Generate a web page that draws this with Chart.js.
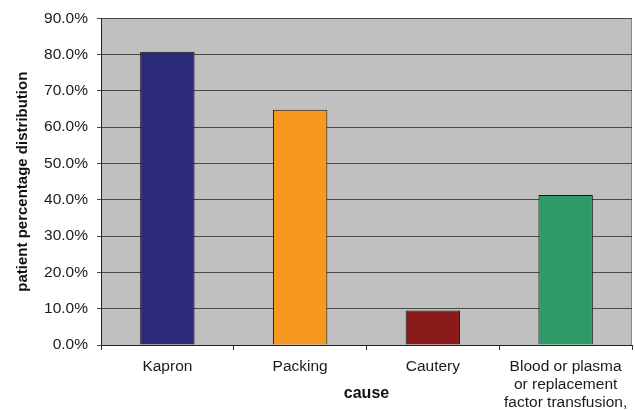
<!DOCTYPE html>
<html>
<head>
<meta charset="utf-8">
<script src="https://cdn.jsdelivr.net/npm/chart.js@4/dist/chart.umd.min.js"></script>
<style>
  html, body { margin: 0; padding: 0; background: #fff; }
  #wrap { width: 635px; height: 410px; }
</style>
</head>
<body>
<div id="wrap"><canvas id="causeChart" width="635" height="410"></canvas></div>
<script>
const causes = ["Kapron", "Packing", "Cautery", ["Blood or plasma", "or replacement", "factor transfusion,"]];
const percentages = [80.8, 64.8, 9.5, 41.3];
const barColors = ["#2a2a78", "#f7991f", "#8b1a1a", "#2e9a68"];
const yTicks = [0, 10, 20, 30, 40, 50, 60, 70, 80, 90];

// grey plot area plus the thin frame on the right
const plotBackground = {
  id: "plotBackground",
  beforeDraw(chart) {
    const { ctx, chartArea: a } = chart;
    ctx.save();
    ctx.fillStyle = "#c0c0c0";
    ctx.fillRect(a.left, a.top, a.right - a.left, a.bottom - a.top);
    ctx.strokeStyle = "#8a8a8a";
    ctx.lineWidth = 1;
    ctx.beginPath();
    ctx.moveTo(a.right - 0.5, a.top);
    ctx.lineTo(a.right - 0.5, a.bottom);
    ctx.stroke();
    ctx.restore();
  }
};

const family = "'Liberation Sans', Arial, sans-serif";

new Chart(document.getElementById("causeChart").getContext("2d"), {
  type: "bar",
  data: {
    labels: causes,
    datasets: [{
      data: percentages,
      backgroundColor: barColors,
      borderColor: "#111",
      borderWidth: 1,
      categoryPercentage: 1,
      barPercentage: 0.41
    }]
  },
  options: {
    responsive: false,
    animation: false,
    layout: { padding: { top: 6, right: 3, left: 0, bottom: 0 } },
    plugins: { legend: { display: false }, tooltip: { enabled: false } },
    scales: {
      x: {
        grid: { offset: true, drawOnChartArea: false, color: "#333", tickLength: 5 },
        border: { color: "#222", width: 1 },
        ticks: { color: "#1a1a1a", font: { family, size: 15.5, lineHeight: 1.19 }, padding: 7, maxRotation: 0 },
        title: { display: true, text: "cause", color: "#111",
                 font: { family, size: 16, weight: "bold" }, padding: { top: 0, bottom: 7 } },
        afterFit(scale) { scale.height = 65; }
      },
      y: {
        min: 0,
        max: 90,
        afterBuildTicks(scale) { scale.ticks = yTicks.map(v => ({ value: v })); },
        grid: { color: "#4a4a4a", tickLength: 4, lineWidth: 1 },
        border: { color: "#222", width: 1 },
        ticks: { color: "#1a1a1a", font: { family, size: 15.5 }, padding: 9, callback: v => v.toFixed(1) + "%" },
        title: { display: true, text: "patient percentage distribution", color: "#111",
                 font: { family, size: 15, weight: "bold" }, padding: { top: 14, bottom: 0 } },
        afterFit(scale) { scale.width = 101; }
      }
    }
  },
  plugins: [plotBackground]
});
</script>
</body>
</html>
